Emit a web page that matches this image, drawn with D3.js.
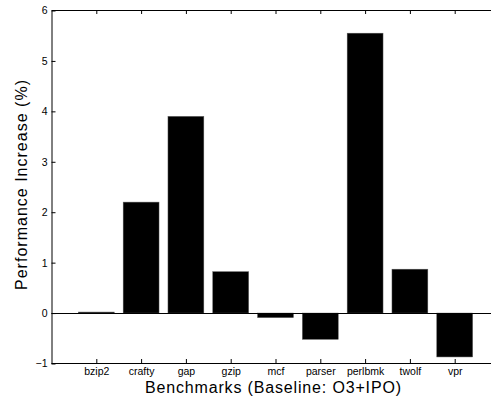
<!DOCTYPE html>
<html>
<head>
<meta charset="utf-8">
<script src="https://cdn.jsdelivr.net/npm/d3@7"></script>
<style>
  body { margin: 0; background: #fff; }
  text { font-family: "Liberation Sans", Arial, sans-serif; }
</style>
</head>
<body>
<div id="chart"></div>
<script>
// Data
const benchmarks = ["bzip2", "crafty", "gap", "gzip", "mcf", "parser", "perlbmk", "twolf", "vpr"];
const increase = [0.02, 2.2, 3.9, 0.82, -0.09, -0.52, 5.55, 0.87, -0.87];
const yTicks = [-1, 0, 1, 2, 3, 4, 5, 6];

const W = 491, H = 398;
const plotLeft = 51.5, plotTop = 10.5, plotBottom = 363.5;

const svg = d3.select("#chart").append("svg")
    .attr("width", W)
    .attr("height", H);

// x positions 0..10 like matlab bar(), right side runs off the picture
const x = d3.scaleLinear().domain([0, 10]).range([plotLeft, plotLeft + 448]);
const y = d3.scaleLinear().domain([-1, 6]).range([plotBottom, plotTop]);

// bars
svg.selectAll(".bar")
    .data(increase)
    .enter().append("rect")
    .attr("class", "bar")
    .attr("x", (d, i) => x(i + 1 - 0.4))
    .attr("width", x(0.8) - x(0))
    .attr("y", d => y(Math.max(0, d)))
    .attr("height", d => Math.abs(y(d) - y(0)))
    .attr("fill", "#000")
    .attr("stroke", "#555")
    .attr("stroke-width", 0.5);

// zero line
svg.append("line")
    .attr("x1", plotLeft).attr("x2", W)
    .attr("y1", Math.round(y(0)) + 0.5).attr("y2", Math.round(y(0)) + 0.5)
    .attr("stroke", "#000");

// bottom axis
const xAxis = svg.append("g")
    .attr("transform", `translate(0, ${plotBottom - 0.5})`)
    .call(d3.axisBottom(x)
        .tickValues(d3.range(1, 10))
        .tickFormat(d => benchmarks[d - 1])
        .tickSizeInner(-4)
        .tickSizeOuter(0)
        .tickPadding(5));

// top axis (ticks only)
const xTop = svg.append("g")
    .attr("transform", `translate(0, ${plotTop - 0.5})`)
    .call(d3.axisTop(x)
        .tickValues(d3.range(1, 10))
        .tickFormat("")
        .tickSizeInner(-4)
        .tickSizeOuter(0));

// left axis
const yAxis = svg.append("g")
    .attr("transform", `translate(${plotLeft}, 0)`)
    .call(d3.axisLeft(y)
        .tickValues(yTicks)
        .tickFormat(d3.format("d"))
        .tickSizeInner(-4)
        .tickSizeOuter(0)
        .tickPadding(4));

[xAxis, xTop, yAxis].forEach(g => {
    g.select(".domain").attr("stroke", "#000").attr("stroke-width", 1);
    g.selectAll(".tick line").attr("stroke", "#000");
    g.selectAll("text").attr("font-size", 10.5).attr("fill", "#000")
        .attr("font-family", "Liberation Sans, Arial, sans-serif");
});

// extend top/bottom lines past the right edge
xAxis.select(".domain").attr("d", `M${plotLeft},0.5H${W + 10}`);
xTop.select(".domain").attr("d", `M${plotLeft},0.5H${W + 10}`);

// axis titles
svg.append("text")
    .attr("x", 273)
    .attr("y", 393)
    .attr("text-anchor", "middle")
    .attr("font-size", 16)
    .attr("textLength", 256)
    .attr("lengthAdjust", "spacing")
    .text("Benchmarks (Baseline: O3+IPO)");

svg.append("text")
    .attr("transform", `translate(27, 185) rotate(-90)`)
    .attr("text-anchor", "middle")
    .attr("font-size", 16)
    .attr("textLength", 210)
    .attr("lengthAdjust", "spacing")
    .text("Performance Increase (%)");
</script>
</body>
</html>
